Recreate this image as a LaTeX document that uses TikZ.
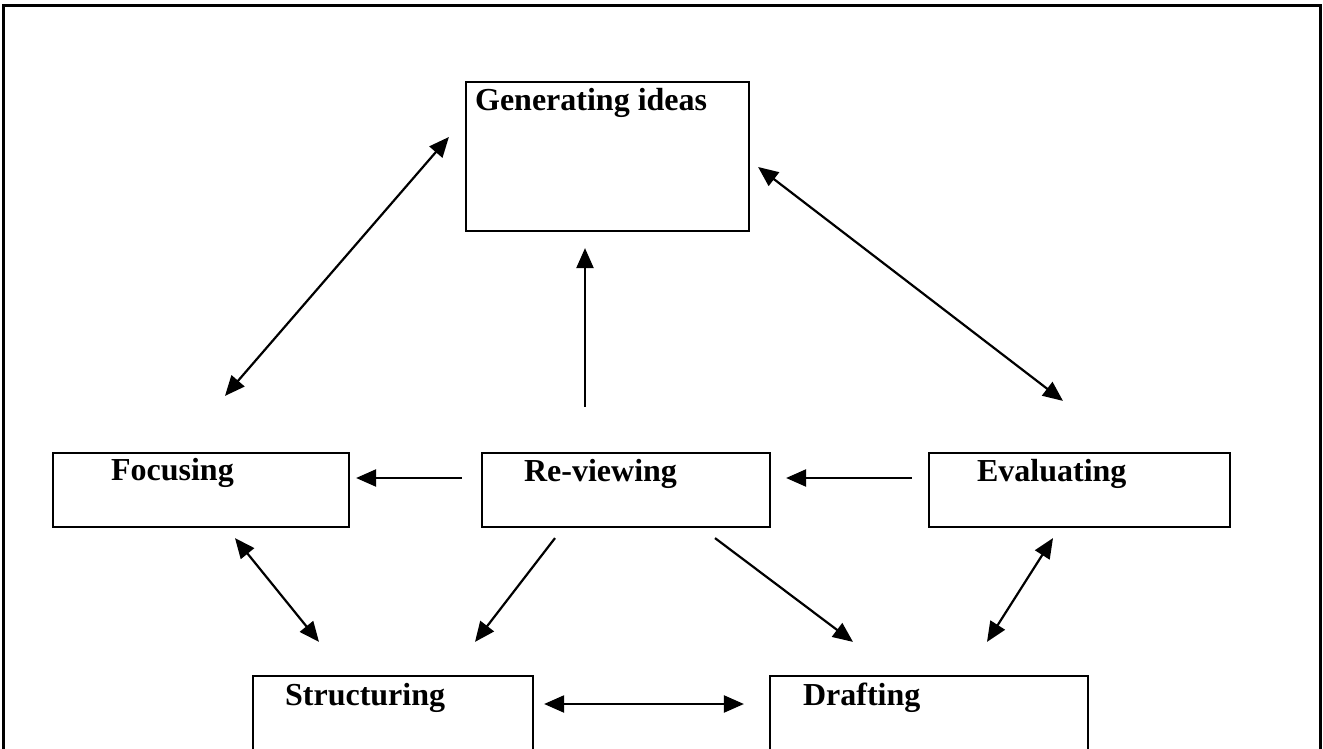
\documentclass[tikz,border=0pt]{standalone}
\usepackage{fontspec}
\setmainfont{Liberation Serif}
\usetikzlibrary{arrows.meta}

\begin{document}
\begin{tikzpicture}[x=1pt, y=-1pt, line join=miter,
  box/.style={draw, line width=2.2pt, inner sep=0pt},
  lbl/.style={anchor=base west, inner sep=0pt, font=\fontsize{32}{38}\selectfont\bfseries},
  arr/.style={line width=2.2pt, -{Triangle[length=20pt,width=17pt]}},
  dbl/.style={line width=2.2pt, {Triangle[length=20pt,width=17pt]}-{Triangle[length=20pt,width=17pt]}}]

\useasboundingbox (0,0) rectangle (1323,749);
\clip (0,0) rectangle (1323,749);

% outer frame
\draw[line width=3pt] (3.5,760) -- (3.5,6) -- (1320,6) -- (1320,760);

% boxes
\node[box, minimum width=283pt, minimum height=149pt] (gen) at (607.5,156.5) {};
\node[box, minimum width=296pt, minimum height=74pt] (foc) at (201,490) {};
\node[box, minimum width=288pt, minimum height=74pt] (rev) at (626,490) {};
\node[box, minimum width=301pt, minimum height=74pt] (eva) at (1079.5,490) {};
\node[box, minimum width=280pt, minimum height=104pt] (str) at (393,728) {};
\node[box, minimum width=318pt, minimum height=104pt] (dra) at (929,728) {};

% labels
\node[lbl] (genlbl) at ([shift={(10,30)}]gen.north west) {Generating ideas};
\node[lbl] (foclbl) at ([shift={(59,29)}]foc.north west) {Focusing};
\node[lbl] (revlbl) at ([shift={(43,30)}]rev.north west) {Re-viewing};
\node[lbl] (evalbl) at ([shift={(49,30)}]eva.north west) {Evaluating};
\node[lbl] (strlbl) at ([shift={(33,31)}]str.north west) {Structuring};
\node[lbl] (dralbl) at ([shift={(34,31)}]dra.north west) {Drafting};

% arrows
\draw[dbl] ([shift={(24,-56)}]foc.north) -- ([shift={(-16,-19.5)}]gen.west);
\draw[arr] ([shift={(-41,-45)}]rev.north) -- ([shift={(-22.5,16)}]gen.south);
\draw[dbl] ([shift={(8,10.5)}]gen.east) -- ([shift={(-16.5,-51)}]eva.north);
\draw[arr] ([shift={(-19,-12)}]rev.west) -- ([shift={(6,-12)}]foc.east);
\draw[arr] ([shift={(-16,-12)}]eva.west) -- ([shift={(15,-12)}]rev.east);
\draw[dbl] ([shift={(34,10)}]foc.south) -- ([shift={(-74,-33)}]str.north);
\draw[arr] ([shift={(-71,10)}]rev.south) -- ([shift={(82,-33)}]str.north);
\draw[arr] ([shift={(89,10)}]rev.south) -- ([shift={(-76,-33)}]dra.north);
\draw[dbl] ([shift={(-26.5,10)}]eva.south) -- ([shift={(58,-33)}]dra.north);
\draw[dbl] ([shift={(10,-24)}]str.east) -- ([shift={(-25,-24)}]dra.west);

\end{tikzpicture}
\end{document}
